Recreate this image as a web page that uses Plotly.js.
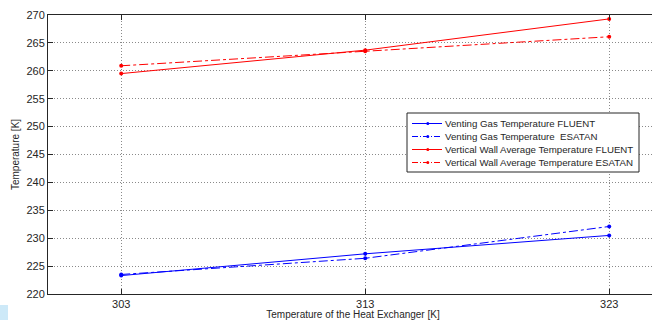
<!DOCTYPE html>
<html><head><meta charset="utf-8">
<script src="https://cdn.plot.ly/plotly-3.0.1.min.js"></script>
<style>html,body{margin:0;padding:0;overflow:hidden;background:#fff}#chart{width:660px;height:320px}</style>
</head><body><div id="chart"></div>
<script>
var heatExchangerT = [303, 313, 323];
var ventingFluent = [223.3, 227.2, 230.5];
var ventingEsatan = [223.5, 226.4, 232.1];
var wallFluent = [259.5, 263.7, 269.3];
var wallEsatan = [260.9, 263.5, 266.1];
var xTicks = [303, 313, 323];
var yTicks = [220, 225, 230, 235, 240, 245, 250, 255, 260, 265, 270];
var seriesNames = ['Venting Gas Temperature FLUENT', 'Venting Gas Temperature  ESATAN',
  'Vertical Wall Average Temperature FLUENT', 'Vertical Wall Average Temperature ESATAN'];
var seriesColors = ['#0000ff', '#0000ff', '#ff0000', '#ff0000'];
var seriesDash = ['solid', 'dashdot', 'solid', 'dashdot'];
var seriesValues = [ventingFluent, ventingEsatan, wallFluent, wallEsatan];

var FONT = 'Liberation Sans, Arial, sans-serif';
var data = seriesValues.map(function (y, i) {
  return {x: heatExchangerT, y: y, name: seriesNames[i], type: 'scatter', mode: 'lines+markers',
    line: {color: seriesColors[i], width: 1, dash: seriesDash[i]},
    marker: {color: seriesColors[i], size: 4}};
});

// plot-area geometry in pixels for converting the custom legend box
var L = 48, W = 610, T = 15, H = 279;
function px(x) { return (x - L) / W; }
function py(y) { return (T + H - y) / H; }

var shapes = [{type: 'rect', xref: 'paper', yref: 'paper', x0: px(407), x1: px(639),
  y0: py(172), y1: py(113), fillcolor: '#fff', line: {color: '#262626', width: 1}, layer: 'above'}];
var annotations = [];
var rowY = [123.5, 136.5, 149.5, 162.5];
seriesNames.forEach(function (n, i) {
  shapes.push({type: 'line', xref: 'paper', yref: 'paper', x0: px(412), x1: px(442),
    y0: py(rowY[i]), y1: py(rowY[i]), line: {color: seriesColors[i], width: 1, dash: seriesDash[i] === 'solid' ? 'solid' : '6px,2px,1px,2px'}, layer: 'above'});
  shapes.push({type: 'circle', xref: 'paper', yref: 'paper', x0: px(426.3), x1: px(429.3),
    y0: py(rowY[i] + 1.5), y1: py(rowY[i] - 1.5), fillcolor: seriesColors[i], line: {width: 0}, layer: 'above'});
  annotations.push({xref: 'paper', yref: 'paper', x: px(442.5), y: py(rowY[i]), xanchor: 'left',
    yanchor: 'middle', text: n, showarrow: false, font: {family: FONT, size: 9.7, color: '#262626'}});
});
shapes.push({type: 'rect', xref: 'paper', yref: 'paper', x0: -48 / W, x1: -40 / W,
  y0: -26 / H, y1: -11 / H, fillcolor: '#cde9f8', line: {width: 0}, layer: 'above'});

var axisCommon = {showline: true, linecolor: '#262626', linewidth: 1, mirror: 'ticks',
  ticks: 'inside', ticklen: 5, tickcolor: '#262626', showgrid: true, gridcolor: '#8a8a8a',
  griddash: '1px,2px', gridwidth: 1, zeroline: false,
  tickfont: {family: FONT, size: 11, color: '#262626'}};
var layout = {
  width: 660, height: 320,
  margin: {l: L, r: 660 - L - W, t: T, b: 320 - T - H},
  paper_bgcolor: '#fff', plot_bgcolor: '#fff',
  showlegend: false,
  xaxis: Object.assign({}, axisCommon, {range: [300, 325], tickvals: xTicks,
    title: {text: 'Temperature of the Heat Exchanger [K]', standoff: 2,
      font: {family: FONT, size: 10, color: '#262626'}}}),
  yaxis: Object.assign({}, axisCommon, {range: [220, 270], tickvals: yTicks,
    title: {text: 'Temperature [K]', standoff: 4,
      font: {family: FONT, size: 10, color: '#262626'}}}),
  shapes: shapes,
  annotations: annotations
};
Plotly.newPlot('chart', data, layout, {displayModeBar: false, staticPlot: true});
</script></body></html>
